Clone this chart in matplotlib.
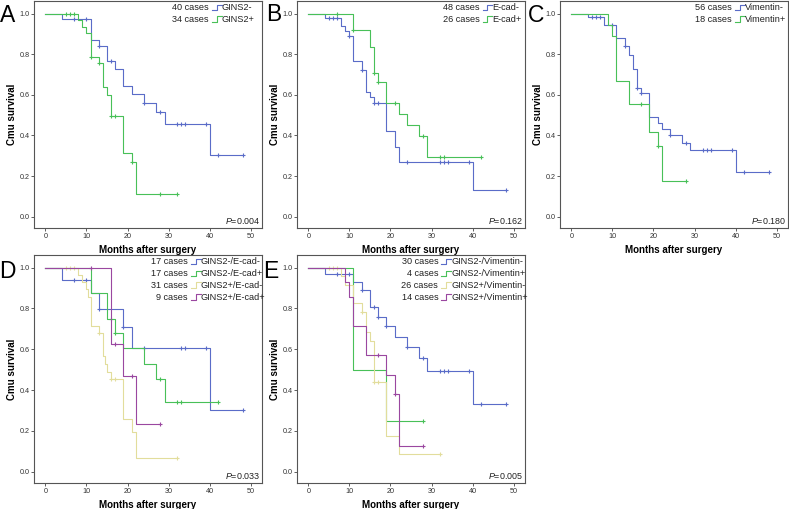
import matplotlib
matplotlib.use("Agg")
import matplotlib.pyplot as plt
import numpy as np

plt.rcParams['font.family'] = ['Liberation Sans', 'DejaVu Sans']
plt.rcParams['mathtext.fontset'] = 'custom'
plt.rcParams['mathtext.it'] = 'Liberation Sans:italic'
plt.rcParams['mathtext.rm'] = 'Liberation Sans'

# ---- data (time in months, survival after each step) ----
# A: GINS2
gins2_neg_t = [0, 4, 11, 13, 15, 17, 19, 21, 24, 27, 29, 40]
gins2_neg_s = [1.0, 0.972, 0.872, 0.839, 0.765, 0.725, 0.645, 0.605, 0.56, 0.515, 0.455, 0.305]
gins2_neg_c = [7, 10, 13, 16, 24, 28, 32, 33, 34, 39, 42, 48]
gins2_pos_t = [0, 8, 9, 10, 11, 13, 14, 15, 16, 19, 21, 22]
gins2_pos_s = [1.0, 0.968, 0.935, 0.903, 0.787, 0.755, 0.64, 0.60, 0.495, 0.315, 0.27, 0.11]
gins2_pos_c = [5, 6, 7, 11, 13, 16, 17, 21, 28, 32]

# B: E-cad
ecad_neg_t = [0, 4, 8, 9, 10, 11, 13, 14, 15, 16, 19, 21, 22, 40]
ecad_neg_s = [1.0, 0.979, 0.937, 0.913, 0.891, 0.767, 0.72, 0.612, 0.587, 0.56, 0.42, 0.343, 0.267, 0.133]
ecad_neg_c = [5, 6, 7, 10, 13, 16, 17, 24, 32, 33, 34, 39, 48]
ecad_pos_t = [0, 11, 15, 16, 17, 19, 22, 24, 27, 29]
ecad_pos_s = [1.0, 0.92, 0.835, 0.71, 0.665, 0.56, 0.505, 0.45, 0.395, 0.295]
ecad_pos_c = [7, 11, 16, 17, 21, 28, 32, 33, 42]

# C: Vimentin
vim_neg_t = [0, 4, 8, 11, 13, 14, 15, 16, 17, 19, 21, 22, 24, 27, 29, 40]
vim_neg_s = [1.0, 0.982, 0.946, 0.882, 0.841, 0.795, 0.726, 0.636, 0.61, 0.493, 0.462, 0.433, 0.402, 0.364, 0.33, 0.22]
vim_neg_c = [5, 6, 7, 10, 13, 16, 17, 24, 28, 32, 33, 34, 39, 42, 48]
vim_pos_t = [0, 9, 10, 11, 14, 19, 21, 22]
vim_pos_s = [1.0, 0.944, 0.889, 0.667, 0.556, 0.417, 0.347, 0.174]
vim_pos_c = [17, 21, 28]

# D: GINS2 / E-cad
d1_t = [0, 4, 11, 13, 19, 21, 40]
d1_s = [1.0, 0.941, 0.874, 0.796, 0.707, 0.606, 0.303]
d1_c = [7, 10, 13, 19, 24, 33, 34, 39, 48]
d2_t = [0, 11, 15, 17, 19, 24, 27, 29]
d2_s = [1.0, 0.875, 0.75, 0.682, 0.606, 0.53, 0.455, 0.341]
d2_c = [16, 17, 28, 32, 33, 42]
d3_t = [0, 8, 9, 10, 10.5, 11, 13, 14, 14.5, 15, 16, 19, 21, 22]
d3_s = [1.0, 0.964, 0.929, 0.893, 0.857, 0.714, 0.679, 0.566, 0.53, 0.49, 0.452, 0.26, 0.195, 0.065]
d3_c = [5, 6, 7, 13, 16, 17, 32]
d4_t = [0, 16, 19, 22]
d4_s = [1.0, 0.625, 0.469, 0.234]
d4_c = [11, 17, 21, 28]

# E: GINS2 / Vimentin
e1_t = [0, 4, 11, 13, 15, 17, 19, 21, 24, 27, 29, 40]
e1_s = [1.0, 0.967, 0.93, 0.89, 0.806, 0.76, 0.714, 0.66, 0.61, 0.556, 0.495, 0.33]
e1_c = [7, 10, 13, 16, 17, 19, 24, 28, 32, 33, 34, 39, 42, 48]
e2_t = [0, 11, 19]
e2_s = [1.0, 0.5, 0.25]
e2_c = [28]
e3_t = [0, 8, 9, 11, 13, 14, 15, 16, 19, 22]
e3_s = [1.0, 0.957, 0.913, 0.826, 0.783, 0.685, 0.639, 0.44, 0.176, 0.088]
e3_c = [5, 6, 7, 13, 16, 17, 32]
e4_t = [0, 9, 10, 11, 14, 19, 21, 22]
e4_s = [1.0, 0.929, 0.857, 0.714, 0.571, 0.476, 0.381, 0.127]
e4_c = [17, 21, 28]

BLUE = '#5a6cc8'
GREEN = '#48c058'
YELLOW = '#e2dd9c'
PURPLE = '#9a47a0'

W, H = 789, 509
fig = plt.figure(figsize=(W / 100, H / 100), dpi=100)


def px_axes(l, t, r, b):
    return fig.add_axes([l / W, 1 - b / H, (r - l) / W, (b - t) / H])


def km(ax, t, s, c, color):
    t = np.asarray(t, float)
    s = np.asarray(s, float)
    c = np.asarray(c, float)
    end = max(t[-1], c.max()) if len(c) else t[-1]
    tt = np.append(t, end)
    ss = np.append(s, s[-1])
    ax.step(tt, ss, where='post', color=color, lw=0.8)
    idx = np.searchsorted(t, c, side='right') - 1
    ax.plot(c, s[idx], ls='none', marker='+', ms=3.5, mew=0.8, color=color)


def legend(ax, x0, rows):
    for i, (n, lab, col) in enumerate(rows):
        y = 0.972 - i * 0.052
        ax.text(x0, y, f'{n} cases', transform=ax.transAxes, ha='right',
                va='center', fontsize=6.6, color='#222222')
        xs = [x0 + 0.014, x0 + 0.034, x0 + 0.034, x0 + 0.056]
        ys = [y - 0.013, y - 0.013, y + 0.012, y + 0.012]
        ax.plot(xs, ys, transform=ax.transAxes, color=col, lw=0.8)
        ax.text(x0 + 0.057, y, lab, transform=ax.transAxes, ha='left',
                va='center', fontsize=6.6, color='#222222')


def style(ax, pval):
    ax.set_xlim(-2.67, 52.6)
    ax.set_ylim(-0.057, 1.062)
    ax.set_xticks(range(0, 51, 10))
    ax.set_yticks(np.arange(0, 1.01, 0.2))
    ax.set_yticklabels([f'{v:.1f}' for v in np.arange(0, 1.01, 0.2)])
    ax.tick_params(labelsize=5.2, length=2, width=0.6, pad=1.2,
                   colors='#444444', labelcolor='#333333')
    for sp in ax.spines.values():
        sp.set_color('#555555')
        sp.set_linewidth(0.8)
    ax.set_xlabel('Months after surgery', fontsize=7, fontweight='bold', labelpad=4)
    ax.set_ylabel('Cmu survival', fontsize=7, fontweight='bold', labelpad=2)
    ax.text(0.993, 0.034, r'$\mathit{P}$=' + pval, transform=ax.transAxes,
            ha='right', va='center', fontsize=6.4, color='#222222')


# A
axA = px_axes(34.3, 1, 261.7, 228.3)
km(axA, gins2_neg_t, gins2_neg_s, gins2_neg_c, BLUE)
km(axA, gins2_pos_t, gins2_pos_s, gins2_pos_c, GREEN)
style(axA, '0.004')
legend(axA, 0.768, [(40, 'GINS2-', BLUE), (34, 'GINS2+', GREEN)])

# B
axB = px_axes(297.3, 1, 524.5, 228.3)
km(axB, ecad_neg_t, ecad_neg_s, ecad_neg_c, BLUE)
km(axB, ecad_pos_t, ecad_pos_s, ecad_pos_c, GREEN)
style(axB, '0.162')
legend(axB, 0.803, [(48, 'E-cad-', BLUE), (26, 'E-cad+', GREEN)])

# C
axC = px_axes(560.3, 1, 787.5, 228.3)
km(axC, vim_neg_t, vim_neg_s, vim_neg_c, BLUE)
km(axC, vim_pos_t, vim_pos_s, vim_pos_c, GREEN)
style(axC, '0.180')
legend(axC, 0.756, [(56, 'Vimentin-', BLUE), (18, 'Vimentin+', GREEN)])

# D
axD = px_axes(34.3, 255, 261.7, 483.3)
km(axD, d1_t, d1_s, d1_c, BLUE)
km(axD, d2_t, d2_s, d2_c, GREEN)
km(axD, d3_t, d3_s, d3_c, YELLOW)
km(axD, d4_t, d4_s, d4_c, PURPLE)
style(axD, '0.033')
legend(axD, 0.675, [(17, 'GINS2-/E-cad-', BLUE), (17, 'GINS2-/E-cad+', GREEN),
                    (31, 'GINS2+/E-cad-', YELLOW), (9, 'GINS2+/E-cad+', PURPLE)])

# E
axE = px_axes(297.3, 255, 524.5, 483.3)
km(axE, e1_t, e1_s, e1_c, BLUE)
km(axE, e2_t, e2_s, e2_c, GREEN)
km(axE, e3_t, e3_s, e3_c, YELLOW)
km(axE, e4_t, e4_s, e4_c, PURPLE)
style(axE, '0.005')
legend(axE, 0.62, [(30, 'GINS2-/Vimentin-', BLUE), (4, 'GINS2-/Vimentin+', GREEN),
                   (26, 'GINS2+/Vimentin-', YELLOW), (14, 'GINS2+/Vimentin+', PURPLE)])

for letter, x, y in [('A', 7.5, 15), ('B', 274, 14.7), ('C', 535.7, 15.3),
                     ('D', 7.5, 271), ('E', 270.5, 271)]:
    fig.text(x / W, 1 - y / H, letter, fontsize=16.5, ha='center', va='center')

fig.savefig('out.png', dpi=100)
